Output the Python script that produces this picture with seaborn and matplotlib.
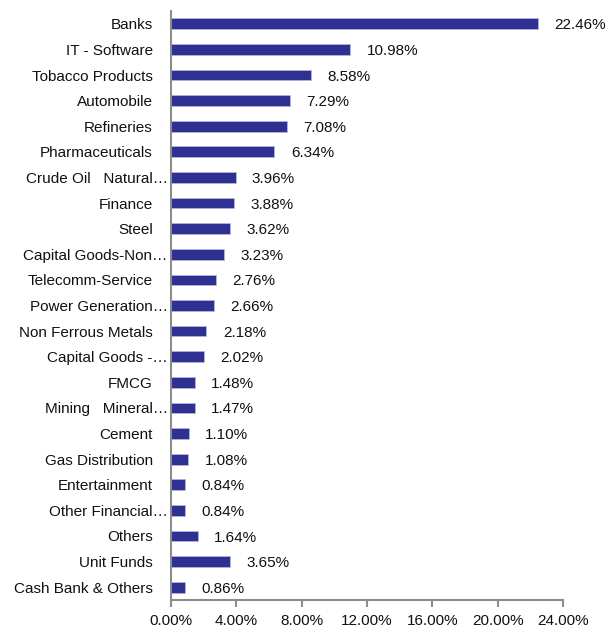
import matplotlib
matplotlib.use("Agg")
import matplotlib.pyplot as plt
import matplotlib.transforms as mtransforms
import seaborn as sns
import pandas as pd

sectors = ["Banks", "IT - Software", "Tobacco Products", "Automobile", "Refineries",
           "Pharmaceuticals", "Crude Oil   Natural…", "Finance", "Steel",
           "Capital Goods-Non…", "Telecomm-Service", "Power Generation…",
           "Non Ferrous Metals", "Capital Goods -…", "FMCG", "Mining   Mineral…",
           "Cement", "Gas Distribution", "Entertainment", "Other Financial…",
           "Others", "Unit Funds", "Cash Bank & Others"]
weights = [22.46, 10.98, 8.58, 7.29, 7.08, 6.34, 3.96, 3.88, 3.62, 3.23, 2.76,
           2.66, 2.18, 2.02, 1.48, 1.47, 1.10, 1.08, 0.84, 0.84, 1.64, 3.65, 0.86]
xticks = [0, 4, 8, 12, 16, 20, 24]

BAR = "#2E3192"
GREY = "#8C8C8C"
FS = 11

sns.set_theme(style="white")
plt.rcParams["font.family"] = ["Liberation Sans", "DejaVu Sans"]

df = pd.DataFrame({"sector": sectors, "weight": weights})

fig = plt.figure(figsize=(6.08, 6.32), dpi=100)
ax = fig.add_axes([0.281, 0.0506, 0.645, 0.932])

sns.barplot(data=df, x="weight", y="sector", orient="h", color=BAR,
            saturation=1, width=0.42, edgecolor="#B8BAE0", linewidth=0.5, ax=ax)

for i, v in enumerate(weights):
    ax.text(v + 1.0, i + 0.06, f"{v:.2f}%", va="center", ha="left", fontsize=FS,
            color="#111111")

ax.set_xlim(0, 24)
ax.set_xticks(xticks)
ax.set_xticklabels([f"{t:.2f}%" for t in xticks], fontsize=FS, color="#111111")
ax.set_ylabel("")
ax.set_xlabel("")
ax.tick_params(axis="y", length=0, pad=13, labelsize=FS, labelcolor="#111111")
ax.tick_params(axis="x", length=5, width=1.5, color=GREY, pad=5, direction="out",
               bottom=True)

for side in ["top", "right"]:
    ax.spines[side].set_visible(False)
for side in ["left", "bottom"]:
    ax.spines[side].set_color(GREY)
    ax.spines[side].set_linewidth(1.5)

# truncated category names run past the label column, as in the source
shift = mtransforms.ScaledTranslation(0.15, 0, fig.dpi_scale_trans)
for lab in ax.get_yticklabels():
    if lab.get_text().endswith("…"):
        lab.set_transform(lab.get_transform() + shift)

fig.savefig("out.png", dpi=100)
